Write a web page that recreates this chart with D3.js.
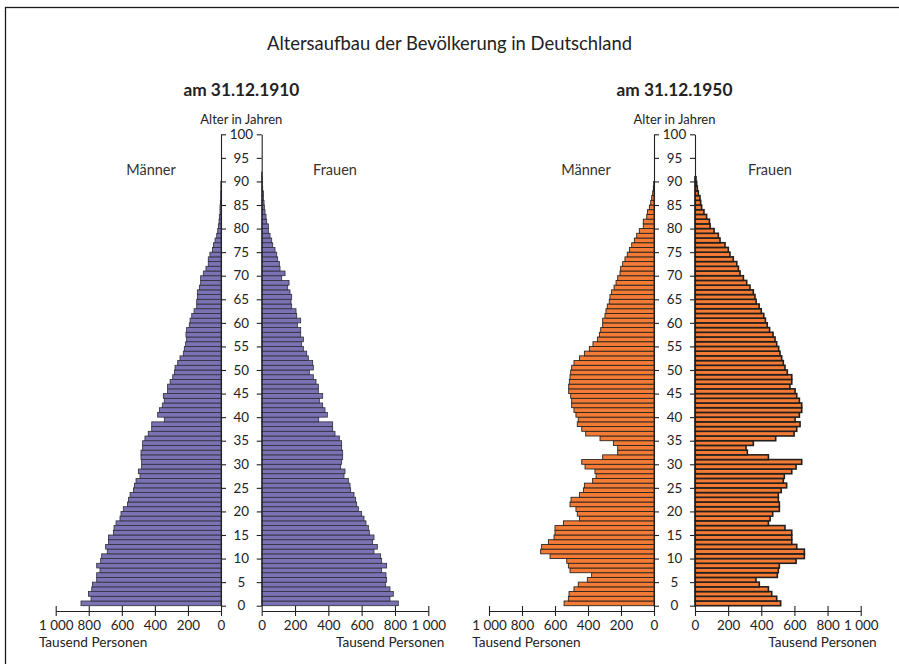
<!DOCTYPE html>
<html>
<head>
<meta charset="utf-8">
<script src="https://cdn.jsdelivr.net/npm/d3@7"></script>
<style>
  html, body { margin: 0; padding: 0; background: #fff; }
  svg { display: block; font-family: Lato, "Noto Sans", sans-serif; }
</style>
</head>
<body>
<svg id="chart" width="899" height="664"></svg>
<script>
// ---------- DATA (thousand persons, index = age in years) ----------
const men1910 = [847,786,802,782,778,752,752,732,752,728,
 722,688,698,681,681,651,647,635,611,605,
 591,566,560,550,530,524,514,490,500,480,
 480,484,484,474,474,460,440,419,419,343,
 383,373,355,343,349,323,323,308,292,282,
 278,262,248,228,222,214,208,212,208,192,
 187,177,163,147,147,143,143,131,123,123,
 107,91,77,77,67,52,46,36,26,20,
 16,12,10,6,6,4,2,2,1,1];
const women1910 = [820,770,790,770,744,750,746,720,750,720,
 714,674,694,666,674,646,640,626,614,600,
 580,570,564,554,534,530,520,494,500,474,
 480,486,486,480,480,466,440,426,426,342,
 394,380,366,346,366,340,340,326,310,286,
 310,306,280,270,250,240,250,234,234,214,
 234,210,206,180,176,180,170,156,164,120,
 140,110,106,96,90,80,66,60,50,40,
 40,30,26,20,16,14,10,10,6,4,3,2];
const men1950 = [545,519,515,485,459,404,378,509,519,529,
 630,687,681,640,606,600,600,549,452,465,
 473,509,503,452,428,422,372,351,358,418,
 438,311,220,220,246,327,414,438,465,459,
 473,485,499,499,505,517,517,513,509,505,
 499,485,452,422,392,370,343,331,323,311,
 311,297,291,283,271,267,257,242,230,220,
 206,202,190,176,162,149,135,119,105,89,
 65,65,44,40,28,20,14,8,4,2];
const women1950 = [517,493,463,443,388,368,497,503,509,610,
 660,660,614,584,584,584,543,443,453,469,
 509,509,503,503,520,553,533,539,584,610,
 644,443,316,308,352,487,598,614,634,604,
 630,644,644,630,614,604,573,584,584,557,
 543,533,523,513,505,493,483,471,450,436,
 425,415,400,387,369,362,352,332,312,292,
 272,262,252,231,211,201,181,151,141,115,
 91,87,70,54,40,34,30,20,14,10,6];
const ageTicks = [0,5,10,15,20,25,30,35,40,45,50,55,60,65,70,75,80,85,90,95,100];
const valueTicks = [0,200,400,600,800,1000];
const valueTickLabels = ["0","200","400","600","800","1 000"];

const texts = {
  title: "Altersaufbau der Bevölkerung in Deutschland",
  ageLabel: "Alter in Jahren",
  men: "Männer",
  women: "Frauen",
  unit: "Tausend Personen"
};

const panels = [
  { date: "am 31.12.1910", men: men1910, women: women1910, mz: 221, mEnd: 55.7, wz: 261.7, wEnd: 428.3,
    fill: "#7b72b4", stroke: "#2e2e3a", sw: 0.8, wStroke: "#2e2e3a", wsw: 0.8, menX: 151, womenX: 335 },
  { date: "am 31.12.1950", men: men1950, women: women1950, mz: 654, mEnd: 489, wz: 695, wEnd: 860.7,
    fill: "#f47b35", stroke: "#2b2420", sw: 0.9, wStroke: "#231f1c", wsw: 1.6, menX: 586, womenX: 770 }
];

// ---------- DRAW ----------
const svg = d3.select("#chart");
const txtCol = "#222";

// frame (only left / top visible)
svg.append("rect").attr("x", 5.5).attr("y", 7.5).attr("width", 1000).attr("height", 1000)
  .attr("fill", "none").attr("stroke", "#1a1a1a").attr("stroke-width", 1.3);

svg.append("text").attr("x", 449.5).attr("y", 50).attr("text-anchor", "middle")
  .attr("font-size", 18.4).attr("fill", txtCol).text(texts.title);

const y = d3.scaleLinear().domain([0, 100]).range([605.7, 134.3]);
const axisY = 611;

panels.forEach(p => {
  const g = svg.append("g");
  const xm = d3.scaleLinear().domain([0, 1000]).range([p.mz, p.mEnd]);
  const xw = d3.scaleLinear().domain([0, 1000]).range([p.wz, p.wEnd]);
  const cx = (p.mz + p.wz) / 2;

  g.append("text").attr("x", cx).attr("y", 96).attr("text-anchor", "middle")
    .attr("font-size", 17.3).attr("font-weight", "bold").attr("fill", txtCol).text(p.date);
  g.append("text").attr("x", cx).attr("y", 124).attr("text-anchor", "middle")
    .attr("font-size", 13).attr("fill", txtCol).text(texts.ageLabel);
  g.append("text").attr("x", p.menX).attr("y", 175).attr("text-anchor", "middle")
    .attr("font-size", 14.5).attr("fill", "#333").text(texts.men);
  g.append("text").attr("x", p.womenX).attr("y", 175).attr("text-anchor", "middle")
    .attr("font-size", 14.5).attr("fill", "#333").text(texts.women);

  // bars
  g.append("g").selectAll("rect").data(p.men).join("rect")
    .attr("x", d => xm(d)).attr("width", d => xm(0) - xm(d))
    .attr("y", (d, i) => y(i + 1)).attr("height", (d, i) => y(i) - y(i + 1))
    .attr("fill", p.fill).attr("stroke", p.stroke).attr("stroke-width", p.sw);
  g.append("g").selectAll("rect").data(p.women).join("rect")
    .attr("x", xw(0)).attr("width", d => xw(d) - xw(0))
    .attr("y", (d, i) => y(i + 1)).attr("height", (d, i) => y(i) - y(i + 1))
    .attr("fill", p.fill).attr("stroke", p.wStroke).attr("stroke-width", p.wsw);

  // age axes
  const aL = g.append("g").attr("transform", `translate(${p.mz},0)`)
    .call(d3.axisRight(y).tickValues(ageTicks).tickSize(5).tickSizeOuter(0).tickFormat(""));
  const aR = g.append("g").attr("transform", `translate(${p.wz},0)`)
    .call(d3.axisLeft(y).tickValues(ageTicks).tickSize(5).tickSizeOuter(0).tickFormat(""));
  [aL, aR].forEach(a => { a.select(".domain").attr("stroke", "#222").attr("stroke-width", 1.1);
    a.selectAll(".tick line").attr("stroke", "#222").attr("stroke-width", 1.1); });
  g.append("g").selectAll("text").data(ageTicks).join("text")
    .attr("x", cx).attr("y", d => y(d) + 4.7).attr("text-anchor", "middle")
    .attr("font-size", 13.4).attr("fill", txtCol).text(d => d);

  // value axes
  [[xm, "start"], [xw, "end"]].forEach(([sc, anch]) => {
    const ax = g.append("g").attr("transform", `translate(0,${axisY})`)
      .call(d3.axisBottom(sc).tickValues(valueTicks).tickSize(5).tickSizeOuter(0)
        .tickFormat((d, i) => valueTickLabels[i]));
    ax.select(".domain").attr("stroke", "#222").attr("stroke-width", 1.1);
    ax.selectAll(".tick line").attr("y1", -5).attr("y2", 5).attr("stroke", "#222").attr("stroke-width", 1.1);
    ax.selectAll(".tick text").attr("y", 18.8).attr("dy", 0).attr("font-size", 13.4)
      .attr("font-family", "Lato, 'Noto Sans', sans-serif").attr("fill", txtCol);
    const ux = anch === "start" ? sc(1000) - 16.8 : sc(1000) + 16;
    g.append("text").attr("x", ux).attr("y", 647).attr("text-anchor", anch)
      .attr("font-size", 13.6).attr("fill", txtCol).text(texts.unit);
  });
});
</script>
</body>
</html>
